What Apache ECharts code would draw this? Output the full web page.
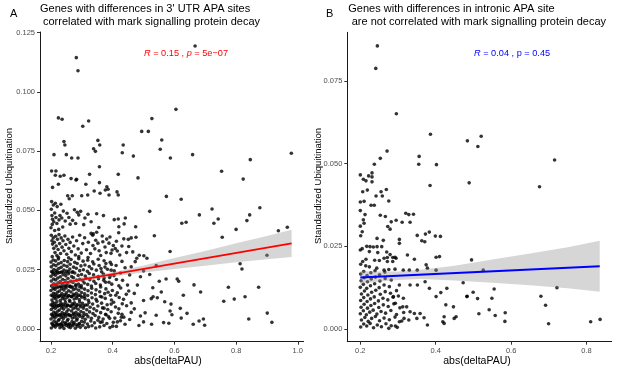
<!DOCTYPE html>
<html><head><meta charset="utf-8">
<script src="https://cdn.jsdelivr.net/npm/echarts@6/dist/echarts.min.js"></script>
<style>html,body{margin:0;padding:0;background:#fff}#c{width:617px;height:370px}</style>
</head><body><div id="c"></div>
<script>
// ---------- Panel A data ----------
const aSparse = [
[0.282,0.1144],[0.2875,0.1089],[0.667,0.1193],[0.605,0.0926],[0.224,0.0890],[0.236,0.0884],[0.322,0.0877],[0.303,0.0855],[0.527,0.0887],
[0.494,0.0833],[0.5155,0.0833],[0.242,0.0790],[0.245,0.0776],[0.352,0.0795],[0.358,0.0776],[0.338,0.0760],[0.344,0.0749],[0.559,0.0797],
[0.554,0.0758],[0.434,0.0776],[0.431,0.0743],[0.467,0.0729],[0.2097,0.0735],[0.2497,0.0735],[0.267,0.0721],[0.2875,0.0721],[0.587,0.0721],
[0.659,0.0735],[0.979,0.0741],[0.846,0.0714],[0.357,0.0684],[0.753,0.0665],[0.823,0.0632],[0.202,0.0666],[0.216,0.0666],[0.214,0.0648],
[0.230,0.0644],[0.242,0.0648],[0.265,0.0634],[0.283,0.0631],[0.325,0.0652],[0.418,0.0652],[0.482,0.0637],
[0.357,0.0617],[0.313,0.0610],[0.281,0.0628],[0.224,0.0610],[0.205,0.0597],[0.381,0.0600],[0.385,0.0589],[0.376,0.0586],[0.414,0.0578],
[0.418,0.0565],[0.340,0.0582],[0.359,0.0572],[0.388,0.0565],[0.254,0.0562],[0.269,0.0562],[0.259,0.0549],[0.2995,0.0562],[0.319,0.0565],
[0.574,0.0559],[0.622,0.0547],
[0.202,0.0537],[0.2075,0.0523],[0.214,0.0530],[0.22,0.0516],[0.232,0.0526],[0.24,0.0497],[0.285,0.0492],[0.296,0.0496],[0.29,0.0481],
[0.32,0.0484],[0.348,0.0486],[0.405,0.0461],[0.418,0.0464],[0.441,0.0468],[0.437,0.0443],[0.42,0.0431],[0.52,0.0496],[0.4745,0.0431],
[0.681,0.0481],[0.722,0.0506],[0.742,0.0464],[0.728,0.0446],[0.624,0.0446],[0.638,0.0450],[0.844,0.0481],[0.877,0.0511],[0.835,0.0457],
[0.80,0.0420],[0.966,0.0429],[0.937,0.0414],[0.4194,0.0406],[0.535,0.0393],[0.755,0.0387],
[0.201,0.0505],[0.203,0.0478],[0.205,0.0463],[0.209,0.0452],[0.212,0.0489],[0.216,0.0470],[0.204,0.0441],[0.219,0.0445],[0.226,0.0460],
[0.229,0.0478],[0.235,0.0468],[0.246,0.0455],[0.252,0.0488],[0.258,0.0470],[0.262,0.0442],[0.27,0.0458],[0.276,0.0503],[0.28,0.0445],
[0.31,0.0468],[0.306,0.0440],[0.33,0.0452],[0.355,0.0428],[0.37,0.0478],[0.225,0.0420],[0.238,0.0430],[0.212,0.0415],[0.2,0.0427],
[0.46,0.0384],[0.4755,0.0387],[0.4506,0.0378],[0.3806,0.0379],[0.398,0.0333],[0.4084,0.0339],[0.3945,0.0319],[0.415,0.0329],[0.348,0.0408],
[0.337,0.0401],[0.33,0.0403],[0.486,0.0311],[0.478,0.0298],[0.473,0.0284],[0.501,0.0309],[0.511,0.0298],[0.586,0.0327],[0.9,0.0311],
[0.201,0.0395],[0.203,0.0372],[0.205,0.0358],[0.207,0.0384],[0.209,0.0340],[0.211,0.0366],[0.213,0.0322],[0.215,0.0391],[0.217,0.0350],
[0.219,0.0310],[0.221,0.0378],[0.223,0.0335],[0.226,0.0398],[0.228,0.0360],[0.231,0.0318],[0.233,0.0384],[0.236,0.0345],[0.239,0.0372],
[0.242,0.0330],[0.245,0.0392],[0.248,0.0356],[0.251,0.0315],[0.255,0.0378],[0.258,0.0340],[0.262,0.0365],[0.266,0.0326],[0.27,0.0388],
[0.274,0.0350],[0.279,0.0312],[0.283,0.0372],[0.288,0.0338],[0.293,0.0395],[0.298,0.0320],[0.303,0.0360],[0.309,0.0385],[0.315,0.0334],
[0.321,0.0366],[0.328,0.0318],[0.336,0.0352],[0.345,0.0374],[0.356,0.0330],[0.366,0.0392],[0.375,0.0346],[0.388,0.0362],[0.43,0.0350],
[0.445,0.0322],[0.204,0.0305],[0.224,0.0302],[0.257,0.0300],[0.29,0.0305],[0.32,0.0301],
[0.541,0.0267],[0.813,0.0275],[0.819,0.0253],[0.551,0.0201],[0.573,0.0211],[0.609,0.0211],[0.614,0.0201],[0.43,0.0285],[0.46,0.0262],
[0.50,0.0245],[0.49,0.0220],[0.455,0.0228],[0.52,0.0230],
[0.53,0.0174],[0.6635,0.0186],[0.685,0.0156],[0.5575,0.0156],[0.775,0.0176],[0.873,0.0176],[0.525,0.0128],[0.531,0.0136],[0.5446,0.0132],
[0.629,0.0142],[0.76,0.0117],[0.794,0.0126],[0.829,0.0136],[0.5686,0.0115],[0.589,0.0105],[0.47,0.0150],[0.48,0.0185],[0.50,0.0120],[0.46,0.0110],
[0.619,0.0087],[0.6409,0.0066],[0.586,0.0076],[0.592,0.0060],[0.541,0.0058],[0.622,0.0046],[0.526,0.0020],[0.565,0.0027],[0.582,0.0024],
[0.661,0.0020],[0.68,0.0034],[0.694,0.0042],[0.698,0.0016],[0.841,0.0042],[0.901,0.0067],[0.916,0.0028],[0.49,0.0055],[0.50,0.0030],
[0.505,0.0068],[0.455,0.0040],[0.47,0.0085],[0.44,0.0020],[0.43,0.0062],[0.485,0.0015]
];
// moderately dense middle part of panel A
const aMid = [
[0.335,0.0395],[0.342,0.0338],[0.352,0.0362],[0.361,0.0310],[0.368,0.0368],[0.379,0.0322],[0.391,0.0388],[0.402,0.0352],[0.412,0.0370],
[0.423,0.0312],[0.436,0.0380],[0.452,0.0348],[0.465,0.0325],[0.362,0.0255],[0.378,0.0276],[0.395,0.0248],[0.411,0.0268],[0.425,0.0236],
[0.44,0.0258],[0.372,0.0215],[0.388,0.0197],[0.404,0.0225],[0.432,0.0205],[0.448,0.0185],[0.365,0.0135],[0.385,0.0155],[0.41,0.0142],
[0.435,0.0125],[0.452,0.0160],[0.372,0.0088],[0.395,0.0105],[0.42,0.0085],[0.445,0.0098],[0.46,0.0070],[0.39,0.0045],[0.415,0.0030],
[0.428,0.0050],[0.40,0.0012],[0.36,0.0028],[0.378,0.0060]
];
// dense cloud of panel A, read row by row: [x values], [y values]
const aDenseRows = [
[[0.201,0.208,0.214,0.221,0.229,0.235,0.242,0.250,0.257,0.263,0.271,0.279,0.286,0.295,0.303,0.312,0.322,0.333,0.345,0.358,0.372,0.391,0.412],
 [0.0004,0.0013,0.0008,0.0016,0.0005,0.0011,0.0002,0.0015,0.0009,0.0006,0.0014,0.0003,0.0012,0.0007,0.0016,0.0005,0.0010,0.0014,0.0004,0.0009,0.0015,0.0006,0.0011]],
[[0.205,0.212,0.219,0.226,0.233,0.240,0.248,0.256,0.264,0.273,0.282,0.292],
 [0.0019,0.0017,0.0021,0.0018,0.0020,0.0016,0.0022,0.0019,0.0017,0.0021,0.0018,0.0020]],
[[0.203,0.210,0.217,0.224,0.231,0.238,0.246,0.253,0.260,0.268,0.275,0.283,0.291,0.299,0.308,0.318,0.329,0.341,0.352,0.366,0.381,0.402,0.425],
 [0.0024,0.0033,0.0028,0.0036,0.0021,0.0030,0.0026,0.0035,0.0022,0.0031,0.0027,0.0037,0.0023,0.0032,0.0029,0.0021,0.0034,0.0026,0.0037,0.0030,0.0023,0.0028,0.0035]],
[[0.200,0.206,0.213,0.219,0.226,0.233,0.240,0.247,0.255,0.262,0.269,0.277,0.285,0.293,0.302,0.311,0.320,0.331,0.343,0.355,0.369,0.386,0.407,0.436],
 [0.0042,0.0051,0.0047,0.0055,0.0040,0.0049,0.0044,0.0053,0.0041,0.0056,0.0046,0.0050,0.0043,0.0054,0.0048,0.0041,0.0052,0.0045,0.0057,0.0049,0.0042,0.0053,0.0046,0.0050]],
[[0.204,0.211,0.218,0.225,0.232,0.239,0.247,0.255,0.264,0.273,0.283,0.294,0.306],
 [0.0059,0.0057,0.0061,0.0058,0.0060,0.0056,0.0062,0.0059,0.0057,0.0061,0.0058,0.0060,0.0057]],
[[0.202,0.209,0.215,0.222,0.228,0.236,0.243,0.251,0.258,0.266,0.273,0.281,0.289,0.297,0.306,0.315,0.325,0.336,0.348,0.361,0.377,0.395,0.418],
 [0.0062,0.0071,0.0067,0.0075,0.0060,0.0069,0.0064,0.0073,0.0061,0.0076,0.0066,0.0070,0.0063,0.0074,0.0068,0.0061,0.0072,0.0065,0.0077,0.0069,0.0062,0.0073,0.0066]],
[[0.201,0.207,0.214,0.220,0.227,0.234,0.241,0.249,0.256,0.264,0.272,0.280,0.288,0.296,0.305,0.316,0.327,0.339,0.352,0.367,0.384,0.409],
 [0.0082,0.0091,0.0087,0.0095,0.0080,0.0089,0.0084,0.0093,0.0081,0.0096,0.0086,0.0090,0.0083,0.0094,0.0088,0.0081,0.0092,0.0085,0.0097,0.0089,0.0082,0.0093]],
[[0.204,0.211,0.218,0.225,0.232,0.239,0.247,0.255,0.264,0.273,0.283,0.294,0.306,0.318],
 [0.0099,0.0097,0.0101,0.0098,0.0100,0.0096,0.0102,0.0099,0.0097,0.0101,0.0098,0.0100,0.0097,0.0101]],
[[0.200,0.206,0.212,0.219,0.226,0.232,0.239,0.247,0.254,0.261,0.269,0.276,0.285,0.293,0.302,0.312,0.323,0.335,0.349,0.364,0.382,0.403,0.431],
 [0.0102,0.0111,0.0107,0.0115,0.0100,0.0109,0.0104,0.0113,0.0101,0.0116,0.0106,0.0110,0.0103,0.0114,0.0108,0.0101,0.0112,0.0105,0.0117,0.0109,0.0102,0.0113,0.0106]],
[[0.203,0.210,0.216,0.223,0.230,0.237,0.245,0.252,0.260,0.267,0.275,0.283,0.292,0.300,0.310,0.321,0.333,0.346,0.360,0.376,0.396,0.421],
 [0.0122,0.0131,0.0127,0.0135,0.0120,0.0129,0.0124,0.0133,0.0121,0.0136,0.0126,0.0130,0.0123,0.0134,0.0128,0.0121,0.0132,0.0125,0.0137,0.0129,0.0122,0.0133]],
[[0.205,0.212,0.219,0.226,0.233,0.241,0.249,0.257,0.266,0.275,0.285,0.296,0.308],
 [0.0139,0.0137,0.0141,0.0138,0.0140,0.0136,0.0142,0.0139,0.0137,0.0141,0.0138,0.0140,0.0137]],
[[0.201,0.208,0.214,0.221,0.228,0.235,0.243,0.250,0.258,0.265,0.273,0.282,0.290,0.299,0.309,0.319,0.331,0.344,0.358,0.374,0.393,0.415,0.444],
 [0.0142,0.0151,0.0147,0.0155,0.0140,0.0149,0.0144,0.0153,0.0141,0.0156,0.0146,0.0150,0.0143,0.0154,0.0148,0.0141,0.0152,0.0145,0.0157,0.0149,0.0142,0.0153,0.0146]],
[[0.200,0.207,0.213,0.220,0.227,0.234,0.242,0.249,0.257,0.265,0.273,0.281,0.290,0.299,0.309,0.320,0.332,0.346,0.361,0.378,0.399,0.426],
 [0.0162,0.0171,0.0167,0.0175,0.0160,0.0169,0.0164,0.0173,0.0161,0.0176,0.0166,0.0170,0.0163,0.0174,0.0168,0.0161,0.0172,0.0165,0.0177,0.0169,0.0162,0.0173]],
[[0.204,0.211,0.218,0.226,0.234,0.242,0.251,0.260,0.270,0.281,0.293],
 [0.0179,0.0177,0.0181,0.0178,0.0180,0.0176,0.0182,0.0179,0.0177,0.0181,0.0178]],
[[0.202,0.209,0.216,0.223,0.230,0.238,0.246,0.254,0.262,0.271,0.280,0.289,0.298,0.308,0.319,0.331,0.345,0.360,0.377,0.397,0.420],
 [0.0182,0.0191,0.0187,0.0195,0.0180,0.0189,0.0184,0.0193,0.0181,0.0196,0.0186,0.0190,0.0183,0.0194,0.0188,0.0181,0.0192,0.0185,0.0197,0.0189,0.0182]],
[[0.201,0.208,0.215,0.222,0.230,0.238,0.246,0.255,0.264,0.273,0.283,0.293,0.303,0.314,0.326,0.339,0.354,0.371,0.390,0.412],
 [0.0202,0.0211,0.0207,0.0215,0.0200,0.0209,0.0204,0.0213,0.0201,0.0216,0.0206,0.0210,0.0203,0.0214,0.0208,0.0201,0.0212,0.0205,0.0217,0.0209]],
[[0.200,0.207,0.214,0.222,0.230,0.239,0.248,0.257,0.267,0.277,0.288,0.299,0.311,0.324,0.338,0.353,0.370,0.392],
 [0.0222,0.0231,0.0227,0.0235,0.0220,0.0229,0.0224,0.0233,0.0221,0.0236,0.0226,0.0230,0.0223,0.0234,0.0228,0.0221,0.0232,0.0225]],
[[0.205,0.213,0.221,0.229,0.238,0.247,0.257,0.268],
 [0.0239,0.0237,0.0241,0.0238,0.0240,0.0236,0.0242,0.0239]],
[[0.202,0.209,0.217,0.225,0.233,0.242,0.251,0.261,0.271,0.282,0.293,0.305,0.318,0.332,0.347,0.364,0.383,0.405],
 [0.0242,0.0251,0.0247,0.0255,0.0240,0.0249,0.0244,0.0253,0.0241,0.0256,0.0246,0.0250,0.0243,0.0254,0.0248,0.0241,0.0252,0.0245]],
[[0.201,0.208,0.216,0.224,0.233,0.242,0.252,0.262,0.273,0.285,0.297,0.310,0.324,0.339,0.356,0.375,0.396],
 [0.0262,0.0271,0.0267,0.0275,0.0260,0.0269,0.0264,0.0273,0.0261,0.0276,0.0266,0.0270,0.0263,0.0274,0.0268,0.0261,0.0272]],
[[0.200,0.207,0.215,0.224,0.233,0.243,0.254,0.265,0.277,0.290,0.304,0.319,0.335,0.353,0.372,0.392],
 [0.0282,0.0291,0.0287,0.0295,0.0280,0.0289,0.0284,0.0293,0.0281,0.0296,0.0286,0.0290,0.0283,0.0294,0.0288,0.0281]]
];
const aFitX = [0.2, 0.98];
const aFitY = [0.0186, 0.0361];
const aBandX  = [0.2, 0.26, 0.33, 0.42, 0.5, 0.6, 0.7, 0.8, 0.9, 0.98];
const aBandLo = [0.0173,0.0190,0.0207,0.0225,0.0238,0.0253,0.0267,0.0281,0.0294,0.0304];
const aBandHi = [0.0199,0.0210,0.0223,0.0245,0.0268,0.0299,0.0329,0.0361,0.0392,0.0418];
const aXTicks = [0.2, 0.4, 0.6, 0.8, 1.0];
const aYTicks = [0, 0.025, 0.05, 0.075, 0.1, 0.125];

// ---------- Panel B data ----------
const bSparse = [
[0.2452,0.0856],[0.241,0.0788],[0.2956,0.0651],[0.386,0.0589],[0.484,0.0569],[0.271,0.0538],[0.253,0.0516],[0.2372,0.0498],
[0.356,0.0522],[0.355,0.0498],[0.402,0.0497],[0.2,0.0466],[0.231,0.0472],[0.231,0.0460],[0.222,0.0463],[0.208,0.0453],[0.215,0.0448],[0.231,0.0445],
[0.5206,0.0583],[0.5118,0.0552],[0.7153,0.0511],[0.4887,0.0442],[0.6754,0.0430],[0.495,0.0209],[0.526,0.0178],[0.4728,0.0140],[0.7216,0.0125],
[0.4834,0.0099],[0.4993,0.0111],[0.511,0.0092],[0.555,0.0121],[0.549,0.0093],[0.679,0.0099],[0.6914,0.0072],[0.5145,0.0046],[0.5418,0.0058],
[0.5578,0.0041],[0.5843,0.0049],[0.5835,0.0023],[0.6994,0.0016],[0.811,0.0022],[0.836,0.0029],[0.385,0.0434],
[0.2186,0.0420],[0.2064,0.0415],[0.255,0.0415],[0.2417,0.0402],[0.2584,0.0402],[0.269,0.0422],[0.2755,0.0387],[0.2,0.0384],[0.21,0.0386],
[0.2284,0.0374],[0.237,0.0374],[0.2,0.0358],[0.2125,0.0346],[0.253,0.0344],[0.2664,0.0340],[0.282,0.0324],[0.2728,0.0310],[0.279,0.0302],
[0.295,0.0329],[0.3206,0.0350],[0.3286,0.0346],[0.341,0.0347],[0.311,0.0323],[0.332,0.0323],[0.208,0.0330],[0.21,0.0320],[0.2,0.0311],
[0.205,0.0294],[0.201,0.0282],[0.351,0.0283],[0.3727,0.0287],[0.383,0.0293],[0.363,0.0267],[0.371,0.0264],[0.399,0.0281],[0.4125,0.0280],
[0.3036,0.0271],[0.3036,0.0259],[0.2444,0.0274],[0.261,0.0268],[0.2,0.0239],[0.205,0.0243],[0.217,0.0250],[0.2258,0.0249],[0.2345,0.0248],
[0.2444,0.0249],[0.2568,0.0249],[0.224,0.0234],[0.2462,0.0231],[0.27,0.0233],[0.279,0.0225],[0.292,0.0217],[0.325,0.0224],[0.3434,0.0211],
[0.401,0.0217],[0.41,0.0219],[0.3746,0.0194],[0.378,0.0184],[0.351,0.0178],[0.33,0.0178],[0.314,0.0178],[0.401,0.0178],
[0.263,0.0214],[0.2717,0.0216],[0.286,0.0216],[0.2948,0.0214],[0.2717,0.0204],[0.286,0.0204],[0.2505,0.0207],[0.238,0.0208],[0.215,0.0211],
[0.2064,0.0204],[0.201,0.0196],[0.2143,0.0191],[0.224,0.0188],[0.2436,0.0184],[0.263,0.0178],[0.2755,0.0180],[0.292,0.0181],
[0.3036,0.0133],[0.332,0.0133],[0.3514,0.0133],[0.3718,0.0143],[0.3833,0.0123],[0.4135,0.0110],[0.4295,0.0123],[0.401,0.0098],[0.4268,0.0073],
[0.447,0.0067],[0.4826,0.0098],[0.4223,0.0037],[0.449,0.0032],[0.454,0.0037],[0.378,0.0012],[0.4188,0.0022],[0.4223,0.0017],[0.3586,0.0047],
[0.369,0.0034],[0.332,0.0052],[0.3434,0.0047],[0.35,0.0032],[0.3286,0.0027],[0.316,0.0032],[0.3036,0.0022],[0.293,0.0009],[0.2755,0.0002],
[0.2877,0.0098],[0.301,0.0100],[0.3142,0.0093],[0.293,0.0078],[0.3126,0.0067],[0.323,0.0067]
];
const bDenseRows = [
[[0.201,0.209,0.217,0.226,0.235,0.245,0.256,0.268,0.282,0.298],[0.0006,0.0015,0.0009,0.0017,0.0004,0.0012,0.0007,0.0016,0.0010,0.0005]],
[[0.203,0.212,0.221,0.230,0.240,0.251,0.263,0.277,0.292,0.310],[0.0027,0.0035,0.0023,0.0032,0.0038,0.0025,0.0033,0.0028,0.0036,0.0024]],
[[0.200,0.208,0.216,0.225,0.234,0.244,0.255,0.267,0.281,0.296,0.315],[0.0046,0.0055,0.0043,0.0051,0.0057,0.0045,0.0053,0.0048,0.0056,0.0044,0.0050]],
[[0.202,0.210,0.219,0.228,0.238,0.249,0.261,0.274,0.289,0.305],[0.0066,0.0075,0.0063,0.0071,0.0077,0.0065,0.0073,0.0068,0.0076,0.0064]],
[[0.201,0.209,0.218,0.227,0.237,0.248,0.260,0.273,0.287],[0.0086,0.0095,0.0083,0.0091,0.0097,0.0085,0.0093,0.0088,0.0096]],
[[0.203,0.211,0.220,0.230,0.241,0.253,0.266,0.280,0.296],[0.0106,0.0115,0.0103,0.0111,0.0117,0.0105,0.0113,0.0108,0.0116]],
[[0.200,0.208,0.217,0.227,0.238,0.250,0.263,0.277],[0.0126,0.0135,0.0123,0.0131,0.0137,0.0125,0.0133,0.0128]],
[[0.202,0.210,0.219,0.229,0.240,0.252,0.266,0.282],[0.0146,0.0155,0.0143,0.0151,0.0157,0.0145,0.0153,0.0148]],
[[0.201,0.209,0.218,0.228,0.239,0.251,0.265],[0.0166,0.0174,0.0162,0.0170,0.0176,0.0164,0.0172]]
];
const bFitX = [0.2, 0.835];
const bFitY = [0.0156, 0.0190];
const bBandX  = [0.2, 0.25, 0.3, 0.36, 0.45, 0.55, 0.65, 0.75, 0.835];
const bBandLo = [0.0137,0.0144,0.0148,0.0151,0.0147,0.0140,0.0132,0.0123,0.0113];
const bBandHi = [0.0175,0.0174,0.0174,0.0179,0.0191,0.0210,0.0228,0.0247,0.0267];
const bXTicks = [0.2, 0.4, 0.6, 0.8];
const bYTicks = [0, 0.025, 0.05, 0.075];

// ---------- build ----------
function expand(sparse, rows) {
  const out = sparse.slice();
  rows.forEach(r => r[0].forEach((x, i) => out.push([x, r[1][i]])));
  return out;
}
const aPoints = expand(aSparse.concat(aMid), aDenseRows);
const bPoints = expand(bSparse, bDenseRows);

const FONT = '"Liberation Sans", Arial, Helvetica, sans-serif';
function bandSeries(idx, bx, lo, hi) {
  return {
    type: 'custom', xAxisIndex: idx, yAxisIndex: idx, z: 3, silent: true,
    data: bx.map((x, i) => [x, lo[i], hi[i]]),
    renderItem: function (params, api) {
      if (params.dataIndex !== 0) return;
      const pts = [];
      for (let i = 0; i < bx.length; i++) pts.push(api.coord([bx[i], hi[i]]));
      for (let i = bx.length - 1; i >= 0; i--) pts.push(api.coord([bx[i], lo[i]]));
      return { type: 'polygon', shape: { points: pts }, style: { fill: '#999999', opacity: 0.4 } };
    }
  };
}
function xAxisCfg(idx, min, max, ticks) {
  return {
    type: 'value', gridIndex: idx, min: min, max: max, splitLine: { show: false },
    axisLine: { show: true, onZero: false, lineStyle: { color: '#1a1a1a', width: 1 } },
    axisTick: { show: true, length: 3, customValues: ticks, lineStyle: { color: '#333' } },
    axisLabel: { customValues: ticks, margin: 5, fontSize: 7.5, color: '#4d4d4d', fontFamily: FONT,
      formatter: v => v.toFixed(1) }
  };
}
function yAxisCfg(idx, min, max, ticks) {
  return {
    type: 'value', gridIndex: idx, min: min, max: max, splitLine: { show: false },
    axisLine: { show: true, onZero: false, lineStyle: { color: '#1a1a1a', width: 1 } },
    axisTick: { show: true, length: 3, customValues: ticks, lineStyle: { color: '#333' } },
    axisLabel: { customValues: ticks, margin: 5, fontSize: 7.5, color: '#4d4d4d', fontFamily: FONT,
      formatter: v => v.toFixed(3) }
  };
}
function txt(x, y, text, size, extra) {
  return Object.assign({ type: 'text', x: x, y: y, silent: true,
    style: Object.assign({ text: text, font: size + 'px ' + FONT, fill: '#000',
      textAlign: 'left', textVerticalAlign: 'middle', verticalAlign: 'middle' }, extra || {}) });
}

const chart = echarts.init(document.getElementById('c'), null, { renderer: 'canvas' });
chart.setOption({
  animation: false,
  backgroundColor: '#fff',
  grid: [
    { left: 40, top: 32, width: 263.6, height: 309.7 },
    { left: 347.3, top: 32.3, width: 264.4, height: 309.4 }
  ],
  xAxis: [ xAxisCfg(0, 0.16434, 1.0188, aXTicks), xAxisCfg(1, 0.16547, 0.8668, bXTicks) ],
  yAxis: [ yAxisCfg(0, -0.005354, 0.12521, aYTicks), yAxisCfg(1, -0.00384, 0.08972, bYTicks) ],
  series: [
    { type: 'scatter', xAxisIndex: 0, yAxisIndex: 0, data: aPoints, symbolSize: 3.6, z: 2,
      itemStyle: { color: '#000' }, silent: true },
    bandSeries(0, aBandX, aBandLo, aBandHi),
    { type: 'line', xAxisIndex: 0, yAxisIndex: 0, data: aFitX.map((x, i) => [x, aFitY[i]]),
      showSymbol: false, z: 4, lineStyle: { color: '#ff0000', width: 2 }, silent: true },
    { type: 'scatter', xAxisIndex: 1, yAxisIndex: 1, data: bPoints, symbolSize: 3.6, z: 2,
      itemStyle: { color: '#000' }, silent: true },
    bandSeries(1, bBandX, bBandLo, bBandHi),
    { type: 'line', xAxisIndex: 1, yAxisIndex: 1, data: bFitX.map((x, i) => [x, bFitY[i]]),
      showSymbol: false, z: 4, lineStyle: { color: '#0000ff', width: 2 }, silent: true }
  ],
  graphic: [
    txt(10, 14, 'A', 11),
    txt(40, 9, "Genes with differences in 3' UTR APA sites", 11),
    txt(43, 21.7, 'correlated with mark signalling protein decay', 11),
    txt(326, 14, 'B', 11),
    txt(348.3, 9, 'Genes with differences in intronic APA site', 11),
    txt(351.7, 21.7, 'are not correlated with mark signalling protein decay', 11),
    { type: 'text', x: 144, y: 53, silent: true, style: {
        text: '{i|R} = 0.15 , {i|p} = 5e\u221207', font: '9.2px ' + FONT, fill: '#ff0000',
        verticalAlign: 'middle', textVerticalAlign: 'middle',
        rich: { i: { fontStyle: 'italic', fontSize: 9.2, fontFamily: FONT, fill: '#ff0000' } } } },
    { type: 'text', x: 474, y: 53, silent: true, style: {
        text: '{i|R} = 0.04 , p = 0.45', font: '9.2px ' + FONT, fill: '#0000ff',
        verticalAlign: 'middle', textVerticalAlign: 'middle',
        rich: { i: { fontStyle: 'italic', fontSize: 9.2, fontFamily: FONT, fill: '#0000ff' } } } },
    txt(168, 361, 'abs(deltaPAU)', 10.5, { textAlign: 'center', align: 'center' }),
    txt(477, 361, 'abs(deltaPAU)', 10.5, { textAlign: 'center', align: 'center' }),
    Object.assign(txt(9.5, 186, 'Standardized Ubiquitination', 9.5, { textAlign: 'center', align: 'center' }), { rotation: Math.PI / 2 }),
    Object.assign(txt(318, 186, 'Standardized Ubiquitination', 9.5, { textAlign: 'center', align: 'center' }), { rotation: Math.PI / 2 })
  ]
});
</script></body></html>
